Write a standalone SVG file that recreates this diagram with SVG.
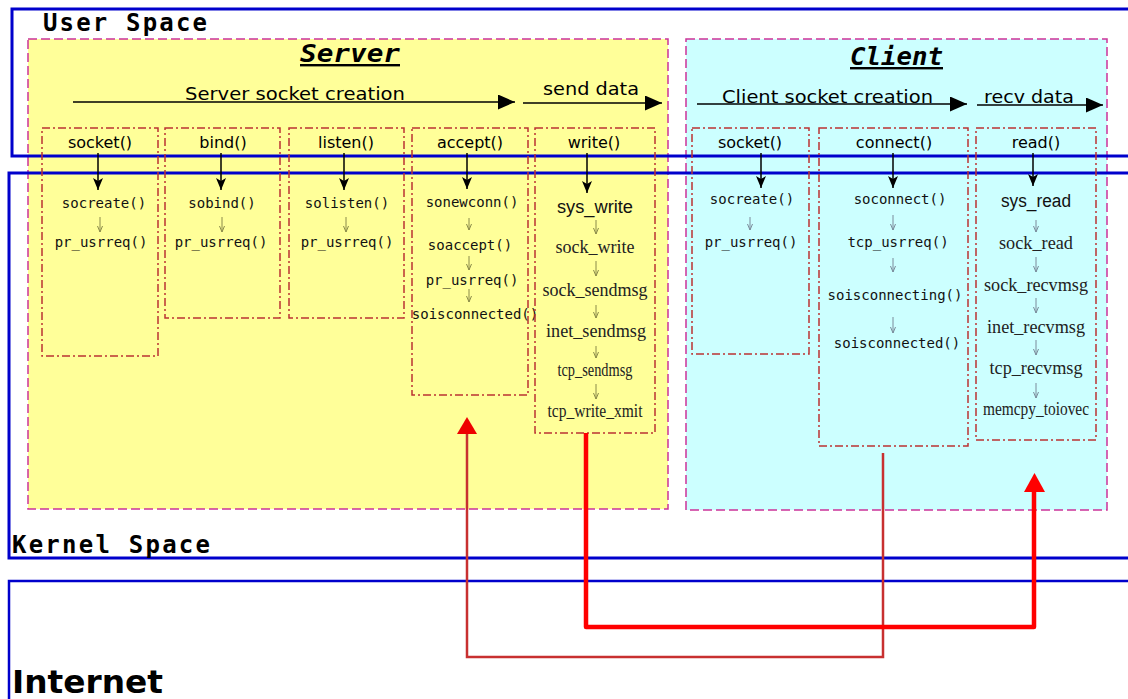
<svg xmlns="http://www.w3.org/2000/svg" width="1128" height="699" viewBox="0 0 1128 699">
<style>
.zone{fill:none;stroke:#0000cc;stroke-width:3}
.zlabel{font-family:"DejaVu Sans Mono","Liberation Mono",monospace;font-weight:bold;font-size:24px;fill:#000}
.side{stroke:#cc3399;stroke-width:1.5;stroke-dasharray:9 4}
.srv{fill:#ffff99}
.cli{fill:#ccffff}
.title{font-family:"DejaVu Sans Mono","Liberation Mono",monospace;font-weight:bold;font-style:italic;font-size:24px;text-decoration:underline;fill:#000}
.flow{font-family:"DejaVu Sans",Verdana,sans-serif;font-size:18px;fill:#000}
.col{fill:none;stroke:#bb3333;stroke-width:1.5;stroke-dasharray:8 3 2 3}
.hdr{font-family:"DejaVu Sans",Verdana,sans-serif;font-size:16px;fill:#000;text-anchor:middle}
.fn{font-family:"DejaVu Sans Mono","Liberation Mono",monospace;font-size:14px;fill:#111;text-anchor:middle}
.ser{font-family:"Liberation Serif","Times New Roman",serif;font-size:18px;fill:#222;text-anchor:middle}
.sans{font-family:"Liberation Sans",Arial,sans-serif;font-size:18px;fill:#111;text-anchor:middle}
.down{stroke:#000;stroke-width:1.5;marker-end:url(#ah)}
.smY{stroke:#8a8a4a;stroke-width:1;marker-end:url(#sm)}
.smC{stroke:#7a8a9a;stroke-width:1;marker-end:url(#sm)}
.big{stroke:#000;stroke-width:1.5;marker-end:url(#bh)}
</style>
<defs>
<marker id="ah" viewBox="0 0 12 10" refX="12" refY="5" markerWidth="12" markerHeight="10" markerUnits="userSpaceOnUse" orient="auto"><path d="M0,0 L12,5 L0,10 L3,5 z" fill="#000"/></marker>
<marker id="bh" viewBox="0 0 17 15" refX="17" refY="7.5" markerWidth="17" markerHeight="15" markerUnits="userSpaceOnUse" orient="auto"><path d="M0,0 L17,7.5 L0,15 z" fill="#000"/></marker>
<marker id="sm" viewBox="0 0 6 6" refX="6" refY="3" markerWidth="6" markerHeight="6" markerUnits="userSpaceOnUse" orient="auto"><path d="M0,0.5 L6,3 L0,5.5" fill="none" stroke="context-stroke" stroke-width="1"/></marker>
</defs>
<rect width="1128" height="699" fill="#ffffff"/>

<g id="server">
<rect class="srv side" x="28" y="39" width="640" height="470"/>
<text class="title" x="300" y="62" textLength="100" lengthAdjust="spacingAndGlyphs">Server</text>
<text class="flow" x="185" y="100" textLength="220" lengthAdjust="spacingAndGlyphs">Server socket creation</text>
<text class="flow" x="543" y="95" textLength="96" lengthAdjust="spacingAndGlyphs">send data</text>
</g>

<g id="client">
<rect class="cli side" x="686" y="39" width="421" height="471"/>
<text class="title" x="850" y="65" textLength="93" lengthAdjust="spacingAndGlyphs">Client</text>
<text class="flow" x="722" y="103" textLength="211" lengthAdjust="spacingAndGlyphs">Client socket creation</text>
<text class="flow" x="984" y="103" textLength="90" lengthAdjust="spacingAndGlyphs">recv data</text>
</g>

<g id="user-space">
<rect class="zone" x="12" y="9" width="1130" height="147"/>
<text class="zlabel" x="43" y="31" textLength="164" lengthAdjust="spacing">User Space</text>
</g>
<g id="kernel-space">
<rect class="zone" x="9" y="173" width="1130" height="385"/>
<text class="zlabel" x="12" y="553" textLength="198" lengthAdjust="spacing">Kernel Space</text>
</g>
<g id="internet">
<rect x="9" y="581" width="1130" height="130" fill="none" stroke="#0000cc" stroke-width="2.5"/>
<text x="12" y="693" font-family="'DejaVu Sans',sans-serif" font-weight="bold" font-size="32" textLength="151" lengthAdjust="spacingAndGlyphs">Internet</text>
</g>

<g id="srv-socket">
<rect class="col" x="42" y="128" width="116" height="228"/>
<text class="hdr" x="100" y="148">socket()</text>
<text class="fn" x="104" y="208">socreate()</text>
<text class="fn" x="101" y="247">pr_usrreq()</text>
</g>
<g id="srv-bind">
<rect class="col" x="165" y="128" width="115" height="190"/>
<text class="hdr" x="223" y="148">bind()</text>
<text class="fn" x="222" y="208">sobind()</text>
<text class="fn" x="221" y="247">pr_usrreq()</text>
</g>
<g id="srv-listen">
<rect class="col" x="289" y="128" width="115" height="190"/>
<text class="hdr" x="346" y="148">listen()</text>
<text class="fn" x="347" y="208">solisten()</text>
<text class="fn" x="347" y="247">pr_usrreq()</text>
</g>
<g id="srv-accept">
<rect class="col" x="412" y="128" width="116" height="267"/>
<text class="hdr" x="470" y="148">accept()</text>
<text class="fn" x="472" y="207">sonewconn()</text>
<text class="fn" x="470" y="250">soaccept()</text>
<text class="fn" x="472" y="285">pr_usrreq()</text>
<text class="fn" x="475" y="319">soisconnected()</text>
</g>
<g id="srv-write">
<rect class="col" x="535" y="128" width="120" height="305"/>
<text class="hdr" x="594" y="148">write()</text>
<text class="sans" x="595" y="213" textLength="76" lengthAdjust="spacingAndGlyphs">sys_write</text>
<text class="ser" x="595" y="253" textLength="79" lengthAdjust="spacingAndGlyphs">sock_write</text>
<text class="ser" x="595" y="296" textLength="105" lengthAdjust="spacingAndGlyphs">sock_sendmsg</text>
<text class="ser" x="596" y="337" textLength="100" lengthAdjust="spacingAndGlyphs">inet_sendmsg</text>
<text class="ser" x="595" y="376" font-size="14" textLength="75" lengthAdjust="spacingAndGlyphs">tcp_sendmsg</text>
<text class="ser" x="595" y="417" font-size="15" textLength="95" lengthAdjust="spacingAndGlyphs">tcp_write_xmit</text>
</g>

<g id="cli-socket">
<rect class="col" x="692" y="128" width="117" height="226"/>
<text class="hdr" x="750" y="148">socket()</text>
<text class="fn" x="752" y="204">socreate()</text>
<text class="fn" x="751" y="247">pr_usrreq()</text>
</g>
<g id="cli-connect">
<rect class="col" x="819" y="128" width="149" height="318"/>
<text class="hdr" x="894" y="148">connect()</text>
<text class="fn" x="900" y="204">soconnect()</text>
<text class="fn" x="898" y="247">tcp_usrreq()</text>
<text class="fn" x="895" y="300">soisconnecting()</text>
<text class="fn" x="897" y="348">soisconnected()</text>
</g>
<g id="cli-read">
<rect class="col" x="976" y="128" width="120" height="312"/>
<text class="hdr" x="1036" y="148">read()</text>
<text class="sans" x="1036" y="207" textLength="70" lengthAdjust="spacingAndGlyphs">sys_read</text>
<text class="ser" x="1036" y="249" textLength="74" lengthAdjust="spacingAndGlyphs">sock_read</text>
<text class="ser" x="1036" y="291" textLength="104" lengthAdjust="spacingAndGlyphs">sock_recvmsg</text>
<text class="ser" x="1036" y="333" textLength="98" lengthAdjust="spacingAndGlyphs">inet_recvmsg</text>
<text class="ser" x="1036" y="374" textLength="93" lengthAdjust="spacingAndGlyphs">tcp_recvmsg</text>
<text class="ser" x="1036" y="415" font-size="15" textLength="106" lengthAdjust="spacingAndGlyphs">memcpy_toiovec</text>
</g>

<g id="connectors">
<line class="big" x1="73" y1="102" x2="515" y2="102"/>
<line class="big" x1="523" y1="103" x2="662" y2="103"/>
<line class="big" x1="697" y1="104" x2="967" y2="104"/>
<line class="big" x1="977" y1="105" x2="1103" y2="105"/>

<line class="down" x1="98" y1="153" x2="98" y2="190"/>
<line class="down" x1="221" y1="153" x2="221" y2="190"/>
<line class="down" x1="344" y1="153" x2="344" y2="190"/>
<line class="down" x1="467" y1="153" x2="467" y2="189"/>
<line class="down" x1="587" y1="153" x2="587" y2="193"/>
<line class="down" x1="761" y1="153" x2="761" y2="188"/>
<line class="down" x1="893" y1="153" x2="893" y2="188"/>
<line class="down" x1="1033" y1="153" x2="1033" y2="186"/>

<line class="smY" x1="100" y1="217" x2="100" y2="232"/>
<line class="smY" x1="222" y1="217" x2="222" y2="232"/>
<line class="smY" x1="346" y1="217" x2="346" y2="232"/>
<line class="smY" x1="469" y1="218" x2="469" y2="230"/>
<line class="smY" x1="469" y1="256" x2="469" y2="270"/>
<line class="smY" x1="469" y1="289" x2="469" y2="302"/>
<line class="smY" x1="596" y1="220" x2="596" y2="234"/>
<line class="smY" x1="596" y1="261" x2="596" y2="276"/>
<line class="smY" x1="596" y1="305" x2="596" y2="318"/>
<line class="smY" x1="596" y1="346" x2="596" y2="358"/>
<line class="smY" x1="596" y1="384" x2="596" y2="399"/>

<line class="smC" x1="750" y1="217" x2="750" y2="230"/>
<line class="smC" x1="893" y1="215" x2="893" y2="230"/>
<line class="smC" x1="893" y1="258" x2="893" y2="272"/>
<line class="smC" x1="893" y1="317" x2="893" y2="333"/>
<line class="smC" x1="1036" y1="220" x2="1036" y2="232"/>
<line class="smC" x1="1036" y1="257" x2="1036" y2="272"/>
<line class="smC" x1="1036" y1="298" x2="1036" y2="313"/>
<line class="smC" x1="1036" y1="340" x2="1036" y2="355"/>
<line class="smC" x1="1036" y1="383" x2="1036" y2="398"/>

<polyline points="883,453 883,657 467,657 467,432" fill="none" stroke="#c83030" stroke-width="2.5"/>
<polygon points="457,434 467,417 477,434" fill="#ee0000"/>
<polyline points="586,433 586,627 1034,627 1034,490" fill="none" stroke="#ff0000" stroke-width="4.5" stroke-linejoin="round"/>
<polygon points="1024,492 1034.5,473 1045,492" fill="#ff0000"/>
</g>
</svg>
